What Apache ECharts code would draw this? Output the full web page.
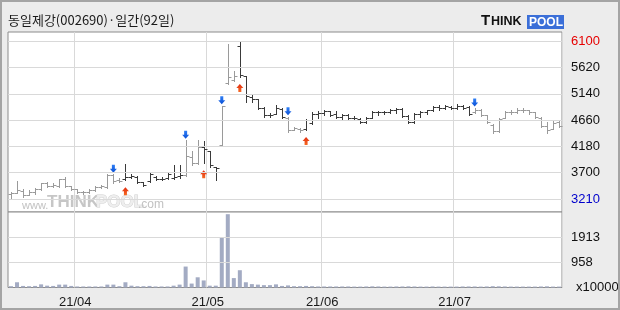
<!DOCTYPE html>
<html><head><meta charset="utf-8">
<script src="https://cdn.jsdelivr.net/npm/echarts@6/dist/echarts.min.js"></script>
<style>html,body{margin:0;padding:0;background:#ececec}#c{width:620px;height:310px}</style>
</head><body><div id="c"></div>
<script>
const title = '동일제강(002690)·일간(92일)';
const dates = ['21/03/17','21/03/18','21/03/19','21/03/22','21/03/23','21/03/24','21/03/25','21/03/26','21/03/29','21/03/30','21/03/31',
'21/04/01','21/04/02','21/04/05','21/04/06','21/04/07','21/04/08','21/04/09','21/04/12','21/04/13','21/04/14','21/04/15','21/04/16','21/04/19','21/04/20','21/04/21','21/04/22','21/04/23','21/04/26','21/04/27','21/04/28','21/04/29','21/04/30',
'21/05/03','21/05/04','21/05/06','21/05/07','21/05/10','21/05/11','21/05/12','21/05/13','21/05/14','21/05/17','21/05/18','21/05/20','21/05/21','21/05/24','21/05/25','21/05/26','21/05/27','21/05/28','21/05/31',
'21/06/01','21/06/02','21/06/03','21/06/04','21/06/07','21/06/08','21/06/09','21/06/10','21/06/11','21/06/14','21/06/15','21/06/16','21/06/17','21/06/18','21/06/21','21/06/22','21/06/23','21/06/24','21/06/25','21/06/28','21/06/29','21/06/30',
'21/07/01','21/07/02','21/07/05','21/07/06','21/07/07','21/07/08','21/07/09','21/07/12','21/07/13','21/07/14','21/07/15','21/07/16','21/07/19','21/07/20','21/07/21','21/07/22','21/07/23','21/07/26'];
const openP = [3300,3330,3370,3290,3340,3400,3500,3460,3450,3590,3450,
 3390,3350,3340,3380,3430,3440,3660,3560,3580,3610,3620,
 3520,3540,3620,3580,3600,3600,3640,3660,3980,3880,4160,
 4090,3800,4210,5340,5400,6020,5460,5090,5040,4880,4760,
 4780,4860,4700,4480,4500,4500,4600,4780,4790,4820,4770,
 4720,4760,4700,4680,4620,4700,4800,4810,4800,4840,4870,
 4740,4620,4770,4800,4850,4900,4890,4900,4880,4920,4900,
 4800,4840,4750,4570,4460,4700,4800,4810,4850,4840,4800,
 4700,4560,4500,4630];
const highP = [3350,3545,3390,3380,3420,3510,3520,3500,3590,3610,3460,
 3400,3370,3400,3450,3470,3670,3670,3600,3850,3670,3630,
 3530,3690,3630,3620,3690,3840,3840,4290,4100,4290,4280,
 4100,3810,4925,6060,5560,6100,5470,5120,5050,4900,4790,
 4940,4880,4720,4530,4520,4680,4800,4830,4840,4830,4830,
 4780,4780,4730,4700,4720,4820,4830,4830,4860,4880,4880,
 4760,4790,4820,4850,4920,4940,4930,4920,4950,4940,4910,
 4880,4860,4760,4580,4700,4830,4840,4880,4880,4850,4810,
 4710,4620,4640,4660];
const lowP = [3210,3320,3260,3280,3310,3380,3440,3430,3430,3440,3380,
 3330,3300,3320,3360,3410,3410,3500,3530,3560,3600,3500,
 3460,3530,3560,3570,3590,3590,3600,3630,3840,3860,3870,
 3810,3560,4200,5320,5380,5450,5000,4990,4860,4720,4720,
 4770,4700,4450,4470,4440,4480,4580,4700,4760,4740,4700,
 4680,4680,4660,4610,4600,4690,4760,4770,4790,4790,4720,
 4600,4600,4720,4780,4830,4850,4860,4860,4860,4870,4760,
 4790,4740,4600,4420,4450,4690,4770,4790,4800,4770,4700,
 4540,4420,4490,4540];
const closeP = [3320,3380,3290,3350,3400,3500,3460,3480,3580,3450,3390,
 3350,3340,3380,3430,3450,3660,3540,3550,3610,3640,3520,
 3480,3680,3580,3590,3680,3620,3660,4010,3870,4160,4130,
 3840,3790,4925,5450,5460,5490,5110,5050,4880,4750,4750,
 4880,4710,4480,4510,4470,4660,4780,4790,4820,4760,4720,
 4760,4700,4690,4620,4700,4800,4810,4800,4840,4860,4740,
 4620,4780,4800,4840,4900,4890,4910,4880,4920,4890,4780,
 4850,4760,4620,4460,4680,4800,4810,4850,4840,4800,4720,
 4560,4480,4600,4560];
const volume = [50,200,60,50,60,120,70,60,110,110,60,
 40,40,40,40,40,110,110,50,200,70,50,
 50,60,40,40,40,70,110,800,150,390,270,
 70,70,1920,2800,360,660,200,130,110,90,90,
 120,60,80,50,50,60,50,40,40,40,40,
 40,40,35,35,40,45,40,35,35,40,40,
 45,40,35,35,40,35,35,35,35,40,40,
 40,35,40,50,45,40,35,35,35,35,35,
 40,45,35,35];
const sellSignals = [17, 29, 35, 46, 77];
const buySignals = [19, 32, 38, 49];
const priceTicks = [6100, 5620, 5140, 4660, 4180, 3700, 3210];
const volTicks = [1913, 958];
const volUnit = 'x10000';

const DARK = '#3a3a3a', GRAY = '#9a9a9a', GRIDC = '#d9d9d9';
const NARROW = "'Liberation Sans Narrow','Liberation Sans',sans-serif";

// phases derived from signals
const phase = [];
let dark = false;
for (let i = 0; i < dates.length; i++) {
  if (buySignals.includes(i)) dark = true;
  if (sellSignals.includes(i)) dark = false;
  phase.push(dark ? 1 : 0);
}
const monthStart = new Set();
for (let i = 1; i < dates.length; i++) if (dates[i].slice(0,5) !== dates[i-1].slice(0,5)) monthStart.add(i);
const isMonthStart = (idx) => monthStart.has(idx);

function renderOHLC(params, api) {
  const i = api.value(0);
  const o = api.coord([i, api.value(1)]);
  const h = api.coord([i, api.value(2)]);
  const l = api.coord([i, api.value(3)]);
  const c = api.coord([i, api.value(4)]);
  const x = Math.round(o[0]) + 0.5;
  const col = api.value(5) ? DARK : GRAY;
  const st = { stroke: col, lineWidth: 1, fill: null };
  const yo = Math.round(o[1]) + 0.5, yc = Math.round(c[1]) + 0.5;
  return { type: 'group', children: [
    { type: 'line', shape: { x1: x, y1: Math.round(h[1]), x2: x, y2: Math.round(l[1]) + 1 }, style: st },
    { type: 'line', shape: { x1: x - 3, y1: yo, x2: x, y2: yo }, style: st },
    { type: 'line', shape: { x1: x, y1: yc, x2: x + 3, y2: yc }, style: st }
  ]};
}

const downArrow = 'path://M2,0 H5 V4 H7 L3.5,8 L0,4 H2 Z';
const upArrow = 'path://M3.5,0 L7,4 H5 V8 H2 V4 H0 Z';

const priceLines = priceTicks.map((v, k) => ({
  name: String(v), yAxis: v,
  label: { color: k === 0 ? '#e60000' : (k === priceTicks.length - 1 ? '#0000cc' : '#111111') }
}));
const volLines = volTicks.map(v => ({ name: String(v), yAxis: v, label: { color: '#111111' } }));
const mlBase = {
  silent: true, symbol: ['none', 'none'], animation: false,
  lineStyle: { color: GRIDC, width: 1, type: 'solid' },
  label: { show: true, position: 'end', distance: 9, formatter: '{b}', fontSize: 13, fontFamily: NARROW },
  emphasis: { disabled: true }
};

const chart = echarts.init(document.getElementById('c'), null, { renderer: 'canvas' });
chart.setOption({
  animation: false,
  backgroundColor: '#ececec',
  grid: [
    { left: 8, top: 32, width: 554, height: 180, show: true, backgroundColor: '#ffffff', borderColor: '#8c8c8c', borderWidth: 1, containLabel: false, outerBoundsMode: 'none' },
    { left: 8, top: 212, width: 554, height: 75.5, show: true, backgroundColor: '#ffffff', borderColor: '#8c8c8c', borderWidth: 1, containLabel: false, outerBoundsMode: 'none' }
  ],
  xAxis: [
    { type: 'category', gridIndex: 0, data: dates, boundaryGap: true,
      axisLine: { show: false }, axisTick: { show: false }, axisLabel: { show: false },
      splitLine: { show: true, interval: isMonthStart, lineStyle: { color: GRIDC, width: 1 } } },
    { type: 'category', gridIndex: 1, data: dates, boundaryGap: true,
      axisLine: { show: false }, axisTick: { show: false },
      axisLabel: { show: true, interval: isMonthStart, formatter: v => v.slice(0, 5), color: '#1a1a1a', fontSize: 13, fontFamily: "'Liberation Sans',sans-serif", margin: 8, padding: [0, 4, 0, 0] },
      splitLine: { show: true, interval: isMonthStart, lineStyle: { color: GRIDC, width: 1 } } }
  ],
  yAxis: [
    { type: 'value', gridIndex: 0, min: 2977, max: 6274, show: false },
    { type: 'value', gridIndex: 1, min: 0, max: 2884, show: false }
  ],
  series: [
    { type: 'line', xAxisIndex: 0, yAxisIndex: 0, data: dates.map(() => null), showSymbol: false, silent: true, z: 1,
      markLine: Object.assign({}, mlBase, { data: priceLines }) },
    { type: 'line', xAxisIndex: 1, yAxisIndex: 1, data: dates.map(() => null), showSymbol: false, silent: true, z: 1,
      markLine: Object.assign({}, mlBase, { data: volLines }) },
    { type: 'custom', xAxisIndex: 0, yAxisIndex: 0, z: 3, silent: true,
      data: dates.map((d, i) => [i, openP[i], highP[i], lowP[i], closeP[i], phase[i]]),
      encode: { x: 0, y: [1, 2, 3, 4] }, renderItem: renderOHLC },
    { type: 'scatter', xAxisIndex: 0, yAxisIndex: 0, z: 4, silent: true,
      data: sellSignals.map(i => [i, highP[i]]), symbol: downArrow, symbolSize: [7, 8], symbolOffset: [0, -5.5],
      itemStyle: { opacity: 1, color: { type: 'linear', x: 0, y: 0, x2: 0, y2: 1, colorStops: [{ offset: 0, color: '#2f7ff5' }, { offset: 1, color: '#0a4fd6' }] } } },
    { type: 'scatter', xAxisIndex: 0, yAxisIndex: 0, z: 4, silent: true,
      data: buySignals.map(i => [i, lowP[i]]), symbol: upArrow, symbolSize: [7, 8], symbolOffset: [0, 11],
      itemStyle: { opacity: 1, color: { type: 'linear', x: 0, y: 0, x2: 0, y2: 1, colorStops: [{ offset: 0, color: '#e02a10' }, { offset: 1, color: '#f76a22' }] } } },
    { type: 'bar', xAxisIndex: 1, yAxisIndex: 1, z: 3, silent: true, data: volume, barWidth: 4,
      itemStyle: { color: '#a3abc3' } }
  ],
  graphic: [
    { type: 'rect', z: 100, silent: true, shape: { x: 1, y: 1, width: 618, height: 308 }, style: { fill: null, stroke: '#a4a4a4', lineWidth: 2 } },
    { type: 'text', z: 10, silent: true, left: 8, top: 14, style: { text: title, font: "13px 'Noto Sans CJK KR'", fill: '#1a1a1a' } },
    { type: 'text', z: 10, silent: true, x: 481, y: 28, style: { text: 'T', font: "bold 15px 'Liberation Sans'", fill: '#111', textVerticalAlign: 'bottom' } },
    { type: 'text', z: 10, silent: true, x: 491, y: 28, style: { text: 'HINK', font: "bold 12.5px 'Liberation Sans'", fill: '#111', textVerticalAlign: 'bottom' } },
    { type: 'rect', z: 10, silent: true, shape: { x: 527, y: 15, width: 37, height: 14 }, style: { fill: '#3b6fd8' } },
    { type: 'text', z: 11, silent: true, x: 529, y: 28.5, style: { text: 'POOL', font: "bold 12px 'Liberation Sans'", fill: '#ffffff', textVerticalAlign: 'bottom' } },
    { type: 'text', z: 2, silent: true, x: 22, y: 211, style: { text: 'www.', font: "11px 'Liberation Sans'", fill: '#c2c2c2', textVerticalAlign: 'bottom' } },
    { type: 'text', z: 2, silent: true, x: 47, y: 211, style: { text: 'THINK', font: "bold 17px 'Liberation Sans'", fill: '#c6c6c6', textVerticalAlign: 'bottom' } },
    { type: 'text', z: 2, silent: true, x: 96, y: 211, style: { text: 'POOL', font: "bold 17px 'Liberation Sans'", fill: '#eeeeee', stroke: '#d0d0d0', lineWidth: 1, textVerticalAlign: 'bottom' } },
    { type: 'text', z: 2, silent: true, x: 138, y: 211, style: { text: '.com', font: "12px 'Liberation Sans'", fill: '#c2c2c2', textVerticalAlign: 'bottom' } },
    { type: 'text', z: 10, silent: true, x: 576, y: 287, style: { text: volUnit, font: "13px " + NARROW, fill: '#111', textVerticalAlign: 'middle' } }
  ]
});
</script></body></html>
